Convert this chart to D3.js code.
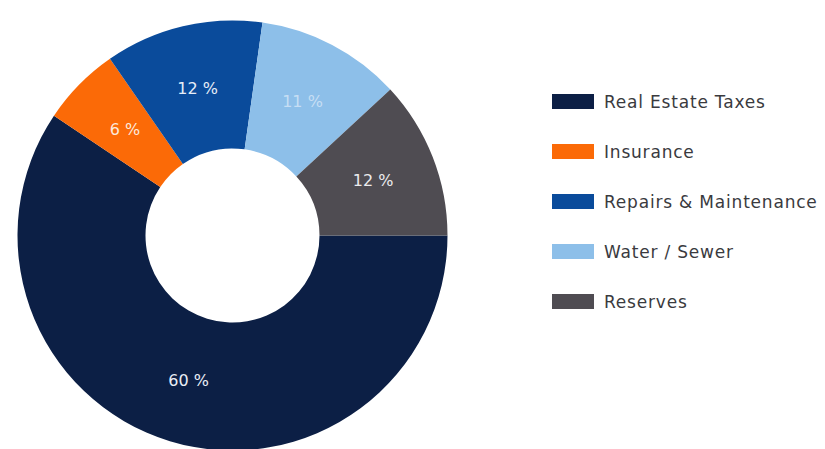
<!DOCTYPE html>
<html>
<head>
<meta charset="utf-8">
<script src="https://cdn.jsdelivr.net/npm/d3@7"></script>
<style>
  html, body { margin: 0; padding: 0; background: #ffffff; }
  svg { display: block; }
  text { font-family: "DejaVu Sans", "Open Sans", sans-serif; }
</style>
</head>
<body>
<svg id="chart" width="825" height="449"></svg>
<script>
// Operating expense breakdown
const categories = ["Real Estate Taxes", "Insurance", "Repairs & Maintenance", "Water / Sewer", "Reserves"];
const shares = [60, 6, 12, 11, 12];
const sliceColors = ["#0c1f45", "#fb6a07", "#0a4b9b", "#8dbfe9", "#4f4c52"];
const labelColors = ["#e9eef6", "#fbe9dc", "#e6eef8", "#c6def4", "#ebebed"];

const svg = d3.select("#chart");

const cx = 232.5, cy = 235.5;
const outerR = 215, innerR = 87;

const color = d3.scaleOrdinal().domain(categories).range(sliceColors);
const labelColor = d3.scaleOrdinal().domain(categories).range(labelColors);

const data = categories.map((c, i) => ({ name: c, value: shares[i] }));

// Slices start at three o'clock and run clockwise
const pie = d3.pie()
  .sort(null)
  .value(d => d.value)
  .startAngle(Math.PI / 2)
  .endAngle(Math.PI / 2 + 2 * Math.PI);

const arc = d3.arc().innerRadius(innerR).outerRadius(outerR);

const g = svg.append("g").attr("transform", `translate(${cx},${cy})`);
const arcs = pie(data);

g.selectAll("path.slice")
  .data(arcs)
  .join("path")
  .attr("class", "slice")
  .attr("d", arc)
  .attr("fill", d => color(d.data.name));

g.selectAll("text.pct")
  .data(arcs)
  .join("text")
  .attr("class", "pct")
  .attr("transform", d => `translate(${arc.centroid(d)})`)
  .attr("text-anchor", "middle")
  .attr("dy", "0.36em")
  .attr("font-size", 16)
  .attr("fill", d => labelColor(d.data.name))
  .text(d => `${d.data.value} %`);

// Legend
const legendX = 552, legendY0 = 101.5, legendStep = 50;
const legend = svg.append("g");
const rows = legend.selectAll("g.row")
  .data(categories)
  .join("g")
  .attr("class", "row")
  .attr("transform", (d, i) => `translate(${legendX},${legendY0 + i * legendStep})`);

rows.append("rect")
  .attr("x", 0)
  .attr("y", -7.5)
  .attr("width", 42)
  .attr("height", 15)
  .attr("fill", d => color(d));

rows.append("text")
  .attr("x", 52)
  .attr("dy", "0.36em")
  .attr("font-size", 17)
  .attr("letter-spacing", 0.8)
  .attr("fill", "#3a3a3e")
  .text(d => d);
</script>
</body>
</html>
